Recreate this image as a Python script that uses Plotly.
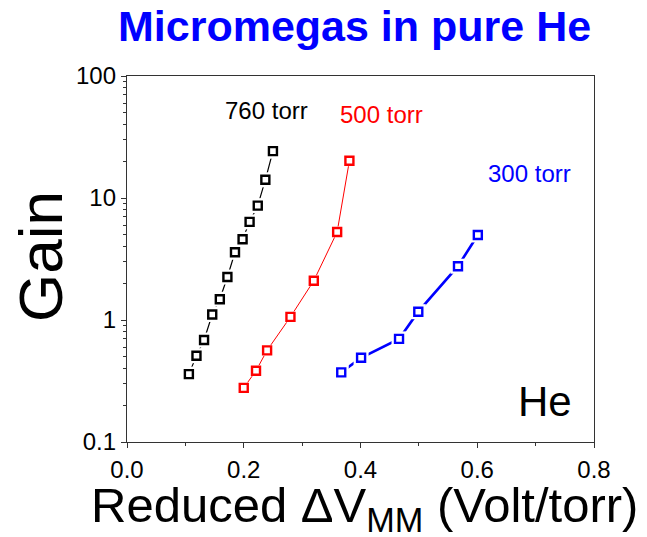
import plotly.graph_objects as go

# Reduced mesh voltage (Volt/torr) and measured gain, one set per pressure
x760 = [0.106, 0.119, 0.132, 0.146, 0.159, 0.172, 0.185, 0.198, 0.210, 0.224, 0.237, 0.250]
g760 = [0.36, 0.51, 0.685, 1.11, 1.48, 2.25, 3.59, 4.59, 6.37, 8.66, 14.1, 24.2]

x500 = [0.200, 0.221, 0.240, 0.280, 0.320, 0.360, 0.381]
g500 = [0.278, 0.384, 0.564, 1.06, 2.10, 5.27, 20.2]

x300 = [0.367, 0.401, 0.466, 0.499, 0.567, 0.601]
g300 = [0.372, 0.49, 0.70, 1.17, 2.76, 4.98]

series = [
    ("760 torr", x760, g760, "#000000", 1.2, 15),
    ("500 torr", x500, g500, "#ff0000", 1.0, 11),
    ("300 torr", x300, g300, "#0000ff", 2.6, 15),
]

FONT = "Liberation Sans, Arial, sans-serif"
W, H = 647, 537
L, R, T, B = 127, 53, 76, 95

fig = go.Figure()
for name, xs, ys, col, lw, gap in series:
    # connecting line
    fig.add_trace(go.Scatter(x=xs, y=ys, mode="lines",
                             line=dict(color=col, width=lw),
                             hoverinfo="skip", showlegend=False))
    # white halo so the line stops short of each symbol
    fig.add_trace(go.Scatter(x=xs, y=ys, mode="markers",
                             marker=dict(symbol="square", size=gap, color="white",
                                         line=dict(width=0)),
                             hoverinfo="skip", showlegend=False))
    # open square symbols
    fig.add_trace(go.Scatter(x=xs, y=ys, mode="markers", name=name,
                             marker=dict(symbol="square", size=8, color="white",
                                         line=dict(color=col, width=2.4)),
                             showlegend=False))

def px(xp, yp):
    return (xp - L) / (W - L - R), (H - B - yp) / (H - T - B)

annos = []
for text, (xp, yp), col, size in [
    ("760 torr", (266, 110), "#000000", 24),
    ("500 torr", (381, 114), "#ff0000", 24),
    ("300 torr", (529, 173), "#0000ff", 24),
    ("He", (545, 401), "#000000", 42),
]:
    ax_, ay_ = px(xp, yp)
    annos.append(dict(text=text, x=ax_, y=ay_, xref="paper", yref="paper",
                      xanchor="center", yanchor="middle", showarrow=False,
                      font=dict(family=FONT, size=size, color=col)))

# axis titles
gx, gy = px(40, 257)
annos.append(dict(text="Gain", x=gx, y=gy, xref="paper", yref="paper",
                  xanchor="center", yanchor="middle", textangle=-90, showarrow=False,
                  font=dict(family=FONT, size=62, color="#000000")))
tx, ty = px(364, 508)
annos.append(dict(text="Reduced ΔV<sub>MM</sub> (Volt/torr)", x=tx, y=ty,
                  xref="paper", yref="paper", xanchor="center", yanchor="middle",
                  showarrow=False, font=dict(family=FONT, size=49, color="#000000")))
# title
ttx, tty = px(354, 26)
annos.append(dict(text="<b>Micromegas in pure He</b>", x=ttx, y=tty,
                  xref="paper", yref="paper", xanchor="center", yanchor="middle",
                  showarrow=False, font=dict(family=FONT, size=43, color="#0000ff")))

axis_common = dict(showgrid=False, zeroline=False, showline=True, mirror=True,
                   linecolor="#333333", linewidth=1.3, ticks="outside",
                   tickcolor="#333333", tickwidth=1.3, ticklen=5,
                   tickfont=dict(family=FONT, size=24, color="#000000"))

fig.update_layout(
    width=W, height=H,
    margin=dict(l=L, r=R, t=T, b=B, pad=0),
    paper_bgcolor="white", plot_bgcolor="white",
    annotations=annos,
    xaxis=dict(range=[0, 0.8], dtick=0.2, tickformat=".1f",
               minor=dict(dtick=0.1, ticks="outside", ticklen=3,
                          tickcolor="#333333", tickwidth=1.3),
               ticklabelstandoff=1, **axis_common),
    yaxis=dict(type="log", range=[-1, 2], dtick=1,
               tickvals=[0.1, 1, 10, 100], ticktext=["0.1", "1", "10", "100"],
               minor=dict(tickvals=[m * d for d in (0.1, 1, 10) for m in range(2, 10)],
                          ticks="outside", ticklen=3,
                          tickcolor="#333333", tickwidth=1.3),
               ticklabelstandoff=0, **axis_common),
)

fig.write_html("out.html")
